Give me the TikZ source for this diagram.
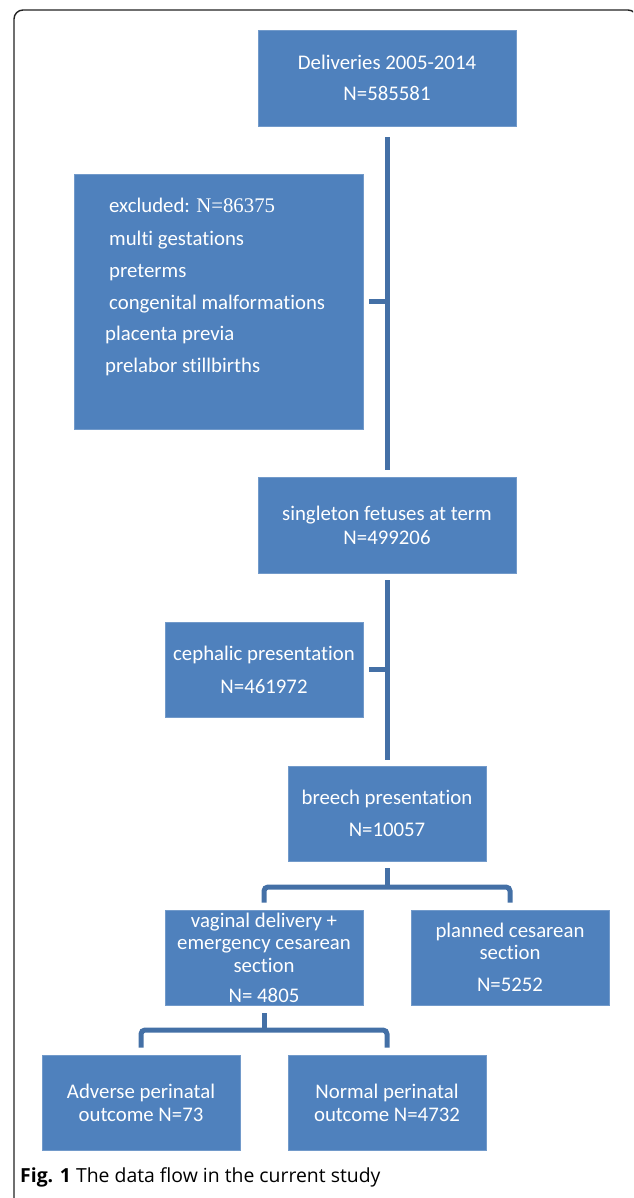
\documentclass[tikz,border=0pt]{standalone}
\usepackage{fontspec}
\setmainfont{Carlito}[Ligatures=NoCommon]
\newfontfamily\capfont{Open Sans}
\newfontfamily\serifnum{Liberation Serif}
\definecolor{boxblue}{HTML}{4F81BD}
\definecolor{linkblue}{HTML}{4470A6}
\definecolor{framegray}{HTML}{222222}
\begin{document}
\begin{tikzpicture}[x=1pt,y=-1pt,
  box/.style={fill=boxblue, draw=boxblue!80!white, line width=0.6pt, text=white,
    align=center, inner sep=0pt},
  bfont/.style={font=\fontsize{20.8}{#1}\selectfont},
  exline/.style={anchor=base west, inner sep=0pt, text=white, font=\fontsize{20.8}{24}\selectfont},
  link/.style={draw=linkblue, line width=5pt},
]
\useasboundingbox (0,0) rectangle (633,1198);
\begin{scope}
  \clip (0,0) rectangle (633,1198);
  \draw[framegray, line width=1.4pt, rounded corners=9pt] (14,1240) -- (14,10) -- (637,10) -- (637,1240);
\end{scope}

% boxes
\node[box, bfont=31, minimum width=258, minimum height=96] (deliv) at (387,78)
  {Deliveries 2005-2014\\N=585581};
\node[box, minimum width=289, minimum height=255] (excl) at (218.5,301.5) {};
\node[box, bfont=24, minimum width=258, minimum height=96] (singl) at (387,525)
  {singleton fetuses at term\\N=499206};
\node[box, bfont=33, minimum width=198, minimum height=95] (ceph) at (264,669.5)
  {cephalic presentation\\N=461972};
\node[box, bfont=32, minimum width=198, minimum height=95] (breech) at (387,813.5)
  {breech presentation\\N=10057};
\node[box, bfont=22.5, minimum width=198, minimum height=95] (vag) at (264,957.5)
  {vaginal delivery +\\emergency cesarean\\section\\[7.5pt]N= 4805};
\node[box, bfont=21.5, minimum width=198, minimum height=95] (plan) at (510,957.5)
  {planned cesarean\\section\\[10.5pt]N=5252};
\node[box, bfont=23, minimum width=198, minimum height=95] (adv) at (141,1102.5)
  {Adverse perinatal\\outcome N=73};
\node[box, bfont=23, minimum width=198, minimum height=95] (norm) at (387,1102.5)
  {Normal perinatal\\outcome N=4732};

% excluded list
\node[exline] (e1) at (109,213) {excluded: {\serifnum N=86375}};
\node[exline] (e2) at (109,245) {multi gestations};
\node[exline] (e3) at (109,277) {preterms};
\node[exline] (e4) at (109,309) {congenital malformations};
\node[exline] (e5) at (105,340) {placenta previa};
\node[exline] (e6) at (105,372) {prelabor stillbirths};

% connectors
\draw[link, shorten <=11pt, shorten >=7pt] (deliv) -- (singl);
\draw[link, shorten <=6pt] (excl.east) -- (excl.east -| deliv.south);
\draw[link, shorten <=7pt, shorten >=6pt] (singl) -- (breech);
\draw[link, shorten <=6pt] (ceph.east) -- (ceph.east -| singl.south);

\coordinate (b1) at (387,887);
\draw[link] ([yshift=-7pt]breech.south) -- (b1);
\draw[link, rounded corners=4pt] ([yshift=7pt]vag.north) |- (b1) -| ([yshift=7pt]plan.north);

\coordinate (b2) at (264,1030);
\draw[link] ([yshift=-8pt]vag.south) -- (b2);
\draw[link, rounded corners=4pt] ([yshift=7pt]adv.north) |- (b2) -| ([yshift=7pt]norm.north);

% caption
\node[anchor=base west, inner sep=0pt, font=\capfont\fontsize{19.4}{22}\selectfont] (cap) at (20,1182)
  {\textbf{Fig. 1} The data flow in the current study};
\end{tikzpicture}
\end{document}
